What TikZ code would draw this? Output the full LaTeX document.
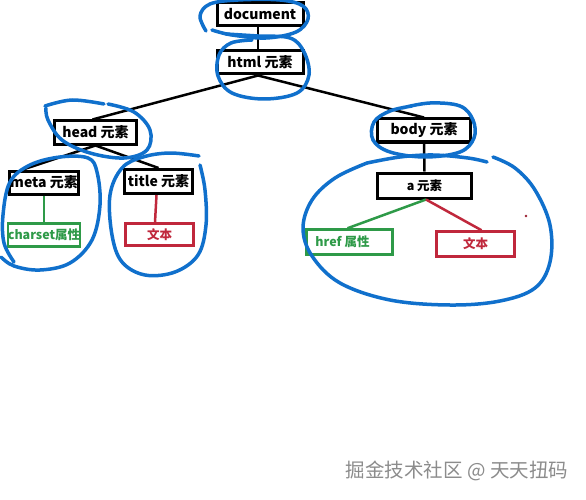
\documentclass[tikz,border=0pt]{standalone}
\usepackage{fontspec}
\newfontfamily\cjk{Noto Sans CJK SC}
\definecolor{bluec}{RGB}{16,112,204}
\definecolor{grnc}{RGB}{46,154,72}
\definecolor{redc}{RGB}{192,40,60}
\definecolor{wmc}{RGB}{140,140,140}
\tikzset{
  blk/.style={draw=black, line width=3pt, fill=white, inner sep=0pt,
    font=\cjk\bfseries\fontsize{14}{16}\selectfont},
  blks/.style={blk, font=\cjk\bfseries\fontsize{12.5}{15}\selectfont},
  grn/.style={draw=grnc, line width=2.5pt, fill=white, inner sep=0pt, text=grnc,
    font=\cjk\bfseries\fontsize{12.5}{15}\selectfont},
  rd/.style={draw=redc, line width=2.5pt, fill=white, inner sep=0pt, text=redc,
    font=\cjk\bfseries\fontsize{12.5}{15}\selectfont},
  conn/.style={line width=2.5pt},
  gconn/.style={line width=2.5pt, draw=grnc},
  rconn/.style={line width=2.5pt, draw=redc},
  pen/.style={draw=bluec, line width=3.5pt, line cap=round, line join=round},
}
\begin{document}
\begin{tikzpicture}[x=1pt, y=-1pt]
\useasboundingbox (0,0) rectangle (586,500);
\fill[white] (0,0) rectangle (586,500);

% nodes
\node[blk, minimum width=86, minimum height=23] (doc) at (260,14) {document};
\node[blk, minimum width=86, minimum height=23] (html) at (260,62.5) {html 元素};
\node[blk, minimum width=82, minimum height=23] (head) at (95.5,132.5) {head 元素};
\node[blk, minimum width=69, minimum height=23] (meta) at (44,182.5) {meta 元素};
\node[blk, minimum width=68, minimum height=24] (title) at (158.5,181.5) {title 元素};
\node[grn, minimum width=71, minimum height=23] (charset) at (44,235) {charset属性};
\node[rd, minimum width=68, minimum height=22] (textl) at (159.5,234.5) {文本};
\node[blk, minimum width=93, minimum height=23] (body) at (424,130.5) {body 元素};
\node[blks, minimum width=94, minimum height=25] (a) at (424.5,185.5) {a 元素};
\node[grn, minimum width=86, minimum height=25] (href) at (349.5,242) {\hspace*{-14pt}href 属性};
\node[rd, minimum width=78, minimum height=25] (textr) at (475.5,244) {文本};

% connectors
\draw[conn] ([xshift=-2pt]doc.south) -- ([xshift=-2pt]html.north);
\draw[conn] ([xshift=-2pt]html.south) -- ([xshift=-3pt]head.north);
\draw[conn] ([xshift=-2pt]html.south) -- (body.north);
\draw[conn] (head.south) -- ([xshift=-21pt]meta.north);
\draw[conn] (head.south) -- (title.north);
\draw[gconn] (meta.south) -- (charset.north);
\draw[rconn] ([xshift=-2pt]title.south) -- ([xshift=-4.5pt]textl.north);
\draw[conn] (body.south) -- (a.north);
\draw[gconn] ([xshift=1.5pt]a.south) -- ([xshift=-2pt]href.north);
\draw[rconn] ([xshift=1.5pt]a.south) -- ([xshift=6pt]textr.north);

% watermark
\node[text=wmc, font=\cjk\fontsize{19.5}{22}\selectfont, anchor=center] (wm) at (457,471) {掘金技术社区 @ 天天扭码};

% red dot
\fill[redc!80!black] (526,216) circle (1.4);

% hand-drawn blue strokes
\draw[pen] plot[smooth, tension=0.6] coordinates {
  (206,31) (200,16) (210,4) (238,0) (280,0) (303,6) (308,19) (296,32) (266,38) (232,35) (212,30)};
\draw[pen] plot[smooth, tension=0.6] coordinates {
  (226,34) (258,36) (290,38) (304,52) (309,75) (297,93) (264,99) (232,93) (218,76) (219,55) (231,43) (252,40)};
\draw[pen] plot[smooth, tension=0.6] coordinates {
  (45,106) (72,100) (104,104)};
\draw[pen] plot[smooth, tension=0.6] coordinates {
  (108,104) (134,112) (150,130) (147,150) (124,158) (90,153) (62,140) (48,120) (46,108)};
\draw[pen] plot[smooth, tension=0.6] coordinates {
  (1,257) (14,266) (40,270) (70,263) (92,240) (100,205) (97,172) (88,158) (60,157) (30,165) (10,182) (3,215) (4,243) (14,262)};
\draw[pen] plot[smooth, tension=0.6] coordinates {
  (199,156) (170,153) (143,157) (122,168) (110,195) (112,235) (122,262) (145,275) (175,272) (198,255) (206,225) (205,190) (200,165)};
\draw[pen] plot[smooth, tension=0.6] coordinates {
  (402,108) (430,103) (460,106) (473,120) (474,138) (460,152) (425,157) (390,152) (373,140) (374,122) (390,111) (412,106)};
\draw[pen] plot[smooth, tension=0.6] coordinates {
  (367,163) (400,157) (433,155) (468,158) (487,162)};
\draw[pen] plot[smooth, tension=0.6] coordinates {
  (493,157) (515,168) (535,190) (550,225) (550,262) (535,288) (500,301) (450,305) (390,300) (340,283) (312,256) (303,228) (312,200) (335,178) (367,163)};
\end{tikzpicture}
\end{document}
